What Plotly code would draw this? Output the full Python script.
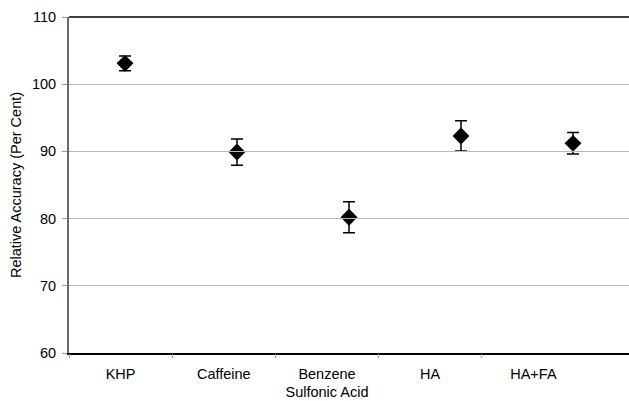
import plotly.graph_objects as go

categories = ["KHP", "Caffeine", "Benzene<br>Sulfonic Acid", "HA", "HA+FA"]
accuracy = [103.1, 89.9, 80.2, 92.3, 91.2]
error = [1.1, 1.95, 2.3, 2.25, 1.6]
y_ticks = [60, 70, 80, 90, 100, 110]

idx = list(range(len(categories)))
label_pos = [i + 0.5 for i in idx]

fig = go.Figure()
fig.add_trace(go.Scatter(
    x=idx, y=accuracy, mode="markers",
    marker=dict(symbol="diamond", size=13, color="black"),
    error_y=dict(type="data", array=error, visible=True, color="black",
                 thickness=1.5, width=6),
    showlegend=False, xaxis="x", yaxis="y",
))

font = dict(family="Liberation Sans, Arial, sans-serif", size=14.5, color="black")

fig.update_layout(
    width=629, height=401,
    margin=dict(l=69, r=0, t=17, b=48),
    plot_bgcolor="rgba(0,0,0,0)", paper_bgcolor="white",
    font=font,
    xaxis=dict(range=[-0.5, 4.5], showticklabels=False, ticks="",
               showgrid=False, zeroline=False, showline=True,
               linecolor="black", linewidth=1.5, domain=[0, 1]),
    xaxis2=dict(range=[0, len(categories)], domain=[0, 516 / 560], anchor="y",
                tickvals=label_pos, ticktext=categories,
                showline=False, showgrid=False, zeroline=False,
                ticks="", ticklabelstandoff=10, tickfont=font,
                minor=dict(tickvals=idx, ticks="outside", ticklen=4,
                           tickcolor="#999999", showgrid=False)),
    yaxis=dict(range=[60, 110], tickvals=y_ticks, showgrid=True,
               gridcolor="#b8b8b8", gridwidth=1, zeroline=False,
               showline=True, linecolor="#6a6a6a", linewidth=2,
               ticks="outside", ticklen=5, tickcolor="#999999",
               ticklabelstandoff=3,
               title=dict(text="Relative Accuracy (Per Cent)", font=font, standoff=7),
               tickfont=font),
    shapes=[dict(type="line", xref="paper", yref="paper", x0=0, x1=1, y0=1, y1=1,
                 line=dict(color="black", width=1.5))],
)
# dummy invisible trace so that xaxis2 is drawn
fig.add_trace(go.Scatter(x=label_pos, y=accuracy, mode="markers",
                         marker=dict(opacity=0), showlegend=False,
                         hoverinfo="skip", xaxis="x2", yaxis="y"))

fig.write_html("out.html", config={"displayModeBar": False},
               post_script="document.body.style.margin='0';")
